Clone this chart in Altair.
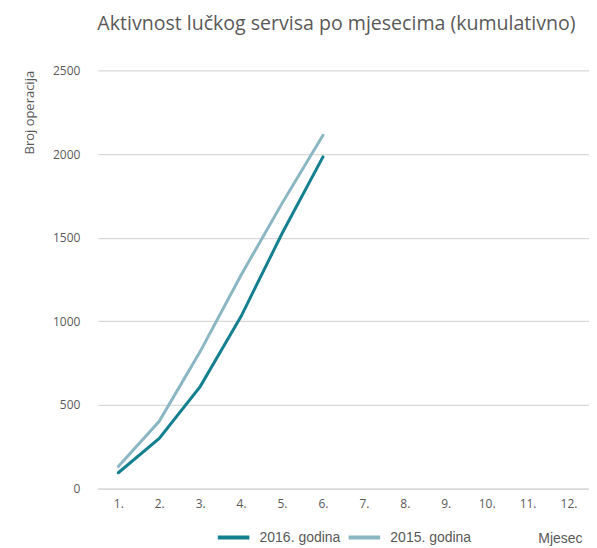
import altair as alt
import pandas as pd

months = ["1.", "2.", "3.", "4.", "5.", "6.", "7.", "8.", "9.", "10.", "11.", "12."]
series_names = ["2016. godina", "2015. godina"]
values_2016 = [95, 300, 610, 1030, 1525, 1983]
values_2015 = [133, 402, 819, 1277, 1705, 2112]
colors = ["#14808F", "#8AB7C3"]

rows = []
for m, v in zip(months, values_2016):
    rows.append({"Mjesec": m, "Vrijednost": v, "Serija": series_names[0]})
for m, v in zip(months, values_2015):
    rows.append({"Mjesec": m, "Vrijednost": v, "Serija": series_names[1]})
df = pd.DataFrame(rows)

chart = alt.Chart(df).mark_line(strokeWidth=3, strokeCap="round").encode(
    x=alt.X("Mjesec:N", sort=months, scale=alt.Scale(domain=months, paddingInner=0, paddingOuter=0.5),
            axis=alt.Axis(title="Mjesec", titleX=485, titleAlign="right", titlePadding=22,
                          titleFontSize=14,
                          titleFont="Liberation Sans", titleFontWeight="normal", titleColor="#595959",
                          labelAngle=0, labelFontSize=12, labelColor="#595959", labelFont="Open Sans",
                          labelPadding=10, ticks=False, domain=True, domainColor="#d9d9d9", domainWidth=1.5,
                          grid=False)),
    y=alt.Y("Vrijednost:Q", scale=alt.Scale(domain=[0, 2500]),
            axis=alt.Axis(title="Broj operacija", titleFontSize=13,
                          titleFont="Open Sans", titleFontWeight="normal", titleColor="#595959",
                          titleAngle=-90, titleX=-68, titleY=0, titleAlign="right",
                          titleBaseline="middle",
                          values=[0, 500, 1000, 1500, 2000, 2500], format="d",
                          labelFontSize=12, labelColor="#595959", labelFont="Open Sans",
                          labelPadding=18, ticks=False, domain=False, gridColor="#d9d9d9",
                          gridWidth=1.2)),
    color=alt.Color("Serija:N", sort=series_names,
                    scale=alt.Scale(domain=series_names, range=colors),
                    legend=alt.Legend(title=None, orient="none", direction="horizontal",
                                      legendX=118, legendY=450, symbolType="stroke",
                                      symbolSize=1000, symbolStrokeWidth=4, labelFontSize=14,
                                      labelFont="Liberation Sans", labelColor="#595959",
                                      columnPadding=0, labelOffset=8)),
).properties(
    width=492, height=419,
    title=alt.TitleParams("Aktivnost lučkog servisa po mjesecima (kumulativno)", fontSize=19.6,
                          font="Open Sans", fontWeight="normal", color="#595959", offset=30,
                          anchor="middle", dx=-7),
    autosize=alt.AutoSizeParams(type="none"),
    padding={"left": 90, "top": 62, "right": 0, "bottom": 62},
).configure_view(stroke=None)

chart.save("out.html", embed_options={"renderer": "svg", "actions": False})
